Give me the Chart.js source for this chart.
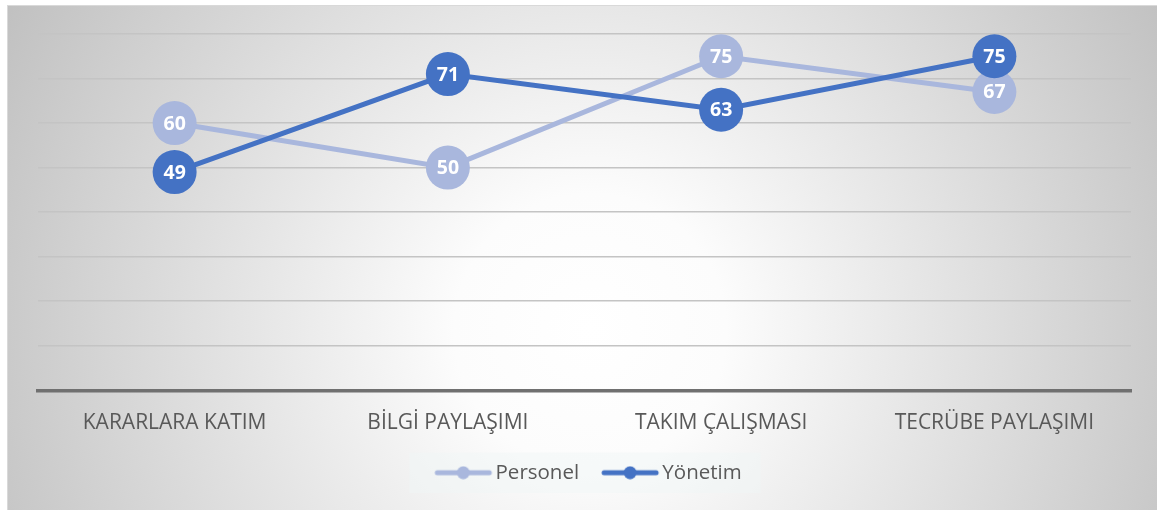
<!DOCTYPE html>
<html>
<head>
<meta charset="utf-8">
<script src="https://cdn.jsdelivr.net/npm/chart.js@4.4.1/dist/chart.umd.min.js"></script>
<style>
  html, body { margin: 0; padding: 0; background: #ffffff; }
  #wrap { position: relative; width: 1157px; height: 510px; }
</style>
</head>
<body>
<div id="wrap"><canvas id="chart" width="1157" height="510"></canvas></div>
<script>
// ── Data ─────────────────────────────────────
const categories = ['KARARLARA KATIM', 'BİLGİ PAYLAŞIMI', 'TAKIM ÇALIŞMASI', 'TECRÜBE PAYLAŞIMI'];
const personel   = [60, 50, 75, 67];
const yonetim    = [49, 71, 63, 75];
const yMin = 0, yMax = 80, yStep = 10;

const COL_PERSONEL = '#A9B7DD';
const COL_YONETIM  = '#4472C4';
const TEXT_GRAY    = '#595959';

// legend marker: line with a dot in the middle (shifted right inside the box)
function legendMarker(color) {
  const c = document.createElement('canvas');
  c.width = 80; c.height = 14;
  const g = c.getContext('2d');
  g.strokeStyle = color; g.lineWidth = 5; g.lineCap = 'round';
  g.beginPath(); g.moveTo(21, 7); g.lineTo(73, 7); g.stroke();
  g.fillStyle = color;
  g.beginPath(); g.arc(47, 7, 6.5, 0, Math.PI * 2); g.fill();
  return c;
}

// ── Background + legend panel ─────────────────
const backdrop = {
  id: 'backdrop',
  beforeDraw(chart) {
    const ctx = chart.ctx;
    ctx.save();
    const grad = ctx.createRadialGradient(590, 330, 0, 590, 330, 680);
    grad.addColorStop(0, '#ffffff');
    grad.addColorStop(0.2, '#fcfcfc');
    grad.addColorStop(1, '#bfbfbf');
    ctx.fillStyle = grad;
    ctx.fillRect(7, 5, chart.width - 7, chart.height - 5);
    ctx.strokeStyle = '#d9d9d9';
    ctx.lineWidth = 1;
    ctx.strokeRect(7.5, 5.5, chart.width, chart.height);

    const items = chart.legend && chart.legend.legendHitBoxes;
    if (items && items.length) {
      const left = Math.min(...items.map((h) => h.left)) - 18;
      const right = Math.max(...items.map((h) => h.left + h.width)) + 19;
      const top = Math.min(...items.map((h) => h.top)) - 10;
      const bottom = Math.max(...items.map((h) => h.top + h.height)) + 10;
      ctx.fillStyle = 'rgba(240,246,246,0.45)';
      ctx.fillRect(left, top, right - left, bottom - top);
    }
    ctx.restore();
  },
};

// ── Value labels inside markers ───────────────
const valueLabels = {
  id: 'valueLabels',
  afterDatasetsDraw(chart) {
    const ctx = chart.ctx;
    ctx.save();
    ctx.font = 'bold 19.5px "Open Sans"';
    ctx.fillStyle = '#ffffff';
    ctx.textAlign = 'center';
    ctx.textBaseline = 'middle';
    chart.data.datasets.forEach((ds, i) => {
      chart.getDatasetMeta(i).data.forEach((pt, j) => {
        ctx.fillText(String(ds.data[j]), pt.x, pt.y + 1);
      });
    });
    ctx.restore();
  },
};

new Chart(document.getElementById('chart'), {
  type: 'line',
  data: {
    labels: categories,
    datasets: [
      {
        label: 'Personel',
        data: personel,
        borderColor: COL_PERSONEL,
        backgroundColor: COL_PERSONEL,
        pointBackgroundColor: COL_PERSONEL,
        borderWidth: 5,
        pointRadius: 22,
        pointHoverRadius: 22,
        pointBorderWidth: 0,
        order: 1,
      },
      {
        label: 'Yönetim',
        data: yonetim,
        borderColor: COL_YONETIM,
        backgroundColor: COL_YONETIM,
        pointBackgroundColor: COL_YONETIM,
        borderWidth: 5,
        pointRadius: 22,
        pointHoverRadius: 22,
        pointBorderWidth: 0,
        order: 0,
      },
    ],
  },
  options: {
    responsive: false,
    animation: false,
    events: [],
    layout: { padding: { left: 38, right: 26, top: 34, bottom: 17 } },
    elements: { point: { pointStyle: 'circle' }, line: { tension: 0 } },
    plugins: {
      tooltip: { enabled: false },
      legend: {
        position: 'bottom',
        labels: {
          usePointStyle: true,
          pointStyleWidth: 58,
          color: TEXT_GRAY,
          font: { family: '"Open Sans"', size: 20.5 },
          padding: 15,
          generateLabels(chart) {
            return chart.data.datasets.map((ds, i) => ({
              text: ds.label,
              fontColor: TEXT_GRAY,
              pointStyle: legendMarker(ds.borderColor),
              lineWidth: 0,
              strokeStyle: 'transparent',
              fillStyle: ds.borderColor,
              datasetIndex: i,
              hidden: false,
            }));
          },
        },
      },
    },
    scales: {
      x: {
        offset: true,
        grid: { display: false },
        border: { display: true, color: '#707070', width: 3.5 },
        ticks: { color: TEXT_GRAY, font: { family: '"Open Sans"', size: 21 }, padding: 12, maxRotation: 0 },
      },
      y: {
        min: yMin,
        max: yMax,
        ticks: { display: false, stepSize: yStep },
        grid: { color: '#c4c4c4', lineWidth: 1.5, drawTicks: false },
        border: { display: false },
        afterFit(s) { s.width = 0; },
      },
    },
  },
  plugins: [backdrop, valueLabels],
});
</script>
</body>
</html>
